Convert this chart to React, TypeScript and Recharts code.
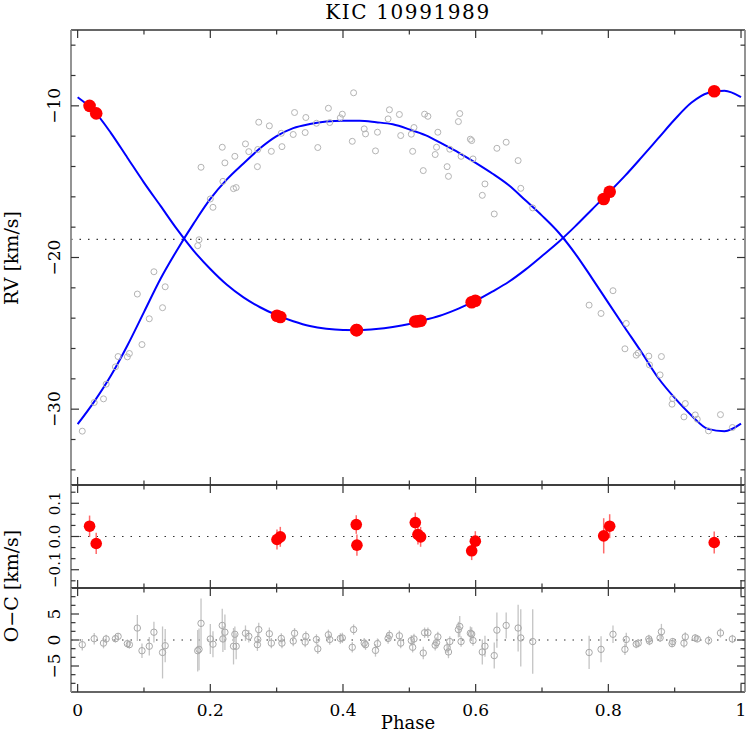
import {
  ComposedChart,
  Line,
  Scatter,
  XAxis,
  YAxis,
  ReferenceLine,
  ErrorBar,
} from "recharts";

// model curves (every 0.025 in phase)
const modelPhase = [
  0, 0.025, 0.05, 0.075, 0.1, 0.125, 0.15, 0.175, 0.2, 0.225, 0.25, 0.275, 0.3, 0.325,
  0.35, 0.375, 0.4, 0.425, 0.45, 0.475, 0.5, 0.525, 0.55, 0.575, 0.6, 0.625, 0.65, 0.675,
  0.7, 0.725, 0.75, 0.775, 0.8, 0.825, 0.85, 0.875, 0.9, 0.925, 0.95, 0.975, 1,
];
const modelPrimary = [
  -9.43, -10.35, -11.78, -13.42, -15.06, -16.6, -18.15, -19.56, -20.76, -21.8, -22.63,
  -23.28, -23.8, -24.2, -24.52, -24.7, -24.78, -24.79, -24.72, -24.58, -24.38, -24.1,
  -23.78, -23.35, -22.85, -22.25, -21.6, -20.8, -19.9, -18.98, -17.95, -16.85, -15.75,
  -14.62, -13.4, -12.15, -10.9, -9.8, -9.15, -9.0, -9.42,
];
const modelSecondary = [
  -30.99, -29.5, -27.8, -25.8, -23.6, -21.4, -19.5, -17.75, -16.14, -14.85, -13.8,
  -12.8, -12.0, -11.47, -11.2, -11.03, -10.98, -10.98, -11.08, -11.22, -11.55, -11.95,
  -12.51, -13.1, -13.76, -14.46, -15.24, -16.23, -17.24, -18.35, -19.74, -21.34, -22.99,
  -24.63, -26.25, -27.93, -29.26, -30.4, -31.3, -31.45, -30.95,
];
const gamma = -18.8;

// primary star (red)
const redPhase = [0.018, 0.028, 0.3005, 0.3055, 0.42, 0.421, 0.509, 0.513, 0.517, 0.594, 0.5995, 0.793, 0.802, 0.9596];
const redRv = [-10.0, -10.5, -23.84, -23.92, -24.79, -24.79, -24.22, -24.2, -24.17, -22.95, -22.85, -16.14, -15.66, -9.04];
const redOc = [0.031, -0.021, -0.009, -0.001, 0.036, -0.026, 0.042, 0.006, -0.001, -0.043, -0.014, 0.002, 0.031, -0.018];
const redErr = [0.032, 0.032, 0.03, 0.03, 0.028, 0.032, 0.03, 0.03, 0.03, 0.028, 0.03, 0.053, 0.036, 0.033];

// secondary star (grey)
const greyPhase = [
  0.007, 0.025, 0.039, 0.043, 0.057, 0.061, 0.075, 0.078, 0.09, 0.097, 0.108, 0.115, 0.128,
  0.132, 0.181, 0.183, 0.186, 0.2, 0.204, 0.218, 0.219, 0.222, 0.235, 0.237, 0.239, 0.253,
  0.258, 0.271, 0.2715, 0.273, 0.289, 0.292, 0.307, 0.308, 0.325, 0.327, 0.343, 0.344, 0.36,
  0.362, 0.378, 0.38, 0.396, 0.399, 0.414, 0.416, 0.432, 0.434, 0.449, 0.452, 0.468, 0.47,
  0.485, 0.487, 0.503, 0.505, 0.507, 0.521, 0.523, 0.528, 0.539, 0.541, 0.543, 0.557, 0.559,
  0.561, 0.574, 0.576, 0.578, 0.592, 0.594, 0.596, 0.61, 0.614, 0.628, 0.632, 0.646, 0.664,
  0.668, 0.686, 0.771, 0.789, 0.807, 0.825, 0.827, 0.842, 0.845, 0.861, 0.862, 0.878, 0.88,
  0.896, 0.897, 0.914, 0.916, 0.931, 0.934, 0.951, 0.969, 0.987,
];
const greyRv = [
  -31.45, -29.56, -29.32, -28.35, -27.21, -26.53, -26.55, -26.33, -22.41, -25.74, -24.04,
  -20.94, -23.31, -21.93, -19.22, -18.83, -14.05, -16.14, -16.69, -12.73, -14.98, -13.76,
  -15.46, -13.33, -15.39, -12.51, -13.02, -14.01, -12.88, -11.08, -11.32, -13.0, -11.81,
  -12.69, -11.89, -10.44, -11.76, -10.77, -11.15, -12.75, -10.16, -11.1, -10.79, -10.55,
  -12.34, -9.14, -11.52, -11.85, -12.97, -11.74, -10.86, -10.26, -10.57, -11.96, -11.87,
  -13.0, -11.43, -14.27, -10.55, -10.69, -13.21, -12.73, -11.74, -14.01, -14.65, -12.86,
  -11.04, -10.51, -13.33, -12.2, -12.29, -13.5, -15.9, -15.15, -17.13, -12.8, -12.4, -13.61,
  -15.44, -16.73, -23.14, -23.69, -22.19, -26.02, -24.35, -26.44, -26.3, -26.5, -27.08,
  -27.74, -26.53, -29.67, -29.3, -30.51, -29.63, -30.38, -30.66, -31.43, -30.36, -31.21,
];
const greyOc = [
  -0.9, 0.25, -0.6, 0.2, 0.25, 0.7, -0.7, -0.9, 2.3, -2.06, -1.2, 1.5, -2.4, -1.1, -2.06,
  -1.8, 3.2, 0.2, -0.8, 2.8, 0.2, 1.5, -1.2, 1.1, -1.2, 1.3, 0.7, -0.9, 0.1, 2.0, 1.2, -0.6,
  0.3, -0.6, -0.2, 1.3, -0.4, 0.7, 0.1, -1.7, 1.0, 0.1, 0.3, 0.4, -1.4, 2.0, -0.6, -0.9,
  -2.0, -0.7, 0.3, 0.9, 0.8, -0.6, -0.1, -1.4, 0.2, -2.5, 1.4, 1.4, -1.0, -0.5, 0.6, -1.5,
  -2.3, -0.3, 2.0, 2.6, -0.3, 1.3, 1.15, -0.1, -2.3, -1.2, -3.0, 1.9, 2.8, 2.3, 0.4, -0.3,
  -2.4, -1.8, 1.1, -1.8, 0.1, -0.8, -0.6, 0.2, -0.2, 0.4, 1.6, -0.7, -0.3, -0.6, 0.6, 0.4,
  0.2, -0.1, 1.35, 0.2,
];
const greyErr = [
  1.1, 1.1, 1.0, 0.8, 0.7, 0.6, 0.8, 0.7, 2.5, 1.4, 1.8, 2.0, 5.0, 3.2, 4.0, 4.0, 4.8, 2.9,
  2.5, 3.2, 2.5, 3.4, 3.5, 1.5, 2.5, 1.5, 1.2, 1.2, 1.2, 1.3, 1.2, 1.0, 1.0, 1.0, 1.0, 1.0,
  1.0, 1.0, 1.0, 1.0, 1.0, 1.0, 1.0, 1.0, 1.0, 1.0, 1.0, 1.0, 1.2, 1.0, 1.0, 1.0, 1.0, 1.0,
  1.0, 1.0, 1.0, 1.2, 1.0, 1.0, 1.0, 1.0, 1.0, 1.0, 1.2, 1.0, 1.5, 2.0, 1.0, 1.3, 1.3, 1.0,
  2.4, 2.0, 2.5, 3.4, 2.5, 4.5, 5.5, 6.2, 3.2, 2.5, 1.7, 1.1, 1.3, 0.8, 0.8, 0.8, 0.8, 0.8,
  1.5, 0.7, 0.7, 0.9, 0.9, 0.7, 0.6, 0.9, 0.9, 0.8,
];

// ticks
const xTicks = [0, 0.1, 0.2, 0.3, 0.4, 0.5, 0.6, 0.7, 0.8, 0.9, 1];
const xMajor = [0, 0.2, 0.4, 0.6, 0.8, 1];
const xLabels = ["0", "0.2", "0.4", "0.6", "0.8", "1"];
const rvTicks = [-34, -32, -30, -28, -26, -24, -22, -20, -18, -16, -14, -12, -10, -8, -6];
const rvMajor = [-30, -20, -10];
const rvLabels = ["\u221230", "\u221220", "\u221210"];
const dvTicks = [-0.1333, -0.1, -0.0667, -0.0333, 0, 0.0333, 0.0667, 0.1, 0.1333];
const dvMajor = [-0.1, 0, 0.1];
const dvLabels = ["\u22120.1", "0.0", "0.1"];
const ocTicks = [-8.333, -6.667, -5, -3.333, -1.667, 0, 1.667, 3.333, 5, 6.667, 8.333];
const ocMajor = [-5, 0, 5];
const ocLabels = ["\u22125", "0", "5"];

const modelData = modelPhase.map((phase, i) => ({
  phase,
  primary: modelPrimary[i],
  secondary: modelSecondary[i],
}));
const redData = redPhase.map((phase, i) => ({ phase, rv: redRv[i], oc: redOc[i], err: redErr[i] }));
const greyData = greyPhase.map((phase, i) => ({ phase, rv: greyRv[i], oc: greyOc[i], err: greyErr[i] }));

const W = 747;
const H = 732;
const LEFT = 71;
const RIGHT = 745;
const X_DOMAIN = [-0.01, 1.006];
const FONT = "'DejaVu Serif', 'Liberation Serif', serif";
const layer = { position: "absolute" as const, left: 0, top: 0 };

// axes take 1px each, so margins are 1px short of the frame
const frameMargin = (top: number, bottom: number) => ({
  top: top - 1,
  bottom: H - bottom - 1,
  left: LEFT - 1,
  right: W - RIGHT - 1,
});

type Side = "bottom" | "top" | "left" | "right";

function makeTick(side: Side, major: number[], labels: string[] | null, fontSize = 17) {
  return (props: any) => {
    const { x, y, payload } = props;
    const v = payload.value as number;
    const idx = major.findIndex((m) => Math.abs(m - v) < 1e-6);
    const len = idx >= 0 ? 8 : 4.5;
    const dx = side === "left" ? len : side === "right" ? -len : 0;
    const dy = side === "bottom" ? -len : side === "top" ? len : 0;
    let text = null;
    if (labels && idx >= 0) {
      if (side === "bottom") {
        text = (
          <text x={x} y={y + 24} textAnchor="middle" fontSize={fontSize} fontFamily={FONT} fill="#000">
            {labels[idx]}
          </text>
        );
      } else if (side === "left") {
        text = (
          <text
            x={60}
            y={y}
            transform={`rotate(-90 60 ${y})`}
            textAnchor="middle"
            fontSize={fontSize}
            fontFamily={FONT}
            fill="#000"
          >
            {labels[idx]}
          </text>
        );
      }
    }
    return (
      <g>
        <line x1={x} y1={y} x2={x + dx} y2={y + dy} stroke="#333" strokeWidth={1.2} />
        {text}
      </g>
    );
  };
}

const hLine = { stroke: "#333", strokeWidth: 1.3 };
const vLine = { stroke: "#888", strokeWidth: 1.8 };

function frameAxes(
  yDomain: number[],
  yTicks: number[],
  yMajor: number[],
  yLabels: string[],
  xLabelsOn: boolean,
  yFont = 17
) {
  return [
    <XAxis
      key="xb"
      dataKey="phase"
      type="number"
      domain={X_DOMAIN}
      ticks={xTicks}
      interval={0}
      height={1}
      tickSize={0}
      tickMargin={0}
      allowDataOverflow
      axisLine={hLine}
      tickLine={false}
      tick={makeTick("bottom", xMajor, xLabelsOn ? xLabels : null)}
    />,
    <XAxis
      key="xt"
      xAxisId="top"
      orientation="top"
      dataKey="phase"
      type="number"
      domain={X_DOMAIN}
      ticks={xTicks}
      interval={0}
      height={1}
      tickSize={0}
      tickMargin={0}
      allowDataOverflow
      axisLine={hLine}
      tickLine={false}
      tick={makeTick("top", xMajor, null)}
    />,
    <YAxis
      key="yl"
      type="number"
      domain={yDomain}
      ticks={yTicks}
      interval={0}
      width={1}
      tickSize={0}
      tickMargin={0}
      allowDataOverflow
      axisLine={vLine}
      tickLine={false}
      tick={makeTick("left", yMajor, yLabels, yFont)}
    />,
    <YAxis
      key="yr"
      yAxisId="r"
      orientation="right"
      type="number"
      domain={yDomain}
      ticks={yTicks}
      interval={0}
      width={1}
      tickSize={0}
      tickMargin={0}
      allowDataOverflow
      axisLine={vLine}
      tickLine={false}
      tick={makeTick("right", yMajor, null)}
    />,
  ];
}

const redDot = (r: number) => (p: any) => <circle cx={p.cx} cy={p.cy} r={r} fill="#ff0000" />;
const greyRing = (r: number, c: string) => (p: any) =>
  <circle cx={p.cx} cy={p.cy} r={r} fill="none" stroke={c} strokeWidth={1} />;

export default function App() {
  return (
    <div style={{ position: "absolute", left: 0, top: 0, width: W, height: H, background: "#fff" }}>
      {/* RV panel */}
      <div style={layer}>
        <ComposedChart width={W} height={H} data={modelData} margin={frameMargin(30, 485)}>
          {frameAxes([-35, -5], rvTicks, rvMajor, rvLabels, false)}
          <ReferenceLine y={gamma} stroke="#333" strokeWidth={1.2} strokeDasharray="1.5 7" />
          <Scatter data={greyData} dataKey="rv" shape={greyRing(3, "#b4b4b4")} isAnimationActive={false} />
          <Line type="monotone" dataKey="primary" stroke="#0000ff" strokeWidth={2} dot={false} isAnimationActive={false} />
          <Line type="monotone" dataKey="secondary" stroke="#0000ff" strokeWidth={2} dot={false} isAnimationActive={false} />
          <Scatter data={redData} dataKey="rv" shape={redDot(6.3)} isAnimationActive={false} />
        </ComposedChart>
      </div>

      {/* O-C primary */}
      <div style={layer}>
        <ComposedChart width={W} height={H} margin={frameMargin(485, 588)}>
          {frameAxes([-0.155, 0.155], dvTicks, dvMajor, dvLabels, false, 15)}
          <ReferenceLine y={0} stroke="#333" strokeWidth={1.2} strokeDasharray="1.5 7" />
          <Scatter data={redData} dataKey="oc" shape={redDot(5.8)} isAnimationActive={false}>
            <ErrorBar dataKey="err" direction="y" width={0} stroke="#ff6a6a" strokeWidth={1.5} isAnimationActive={false} />
          </Scatter>
        </ComposedChart>
      </div>

      {/* O-C secondary */}
      <div style={layer}>
        <ComposedChart width={W} height={H} margin={frameMargin(588, 692)}>
          {frameAxes([-10, 10], ocTicks, ocMajor, ocLabels, true)}
          <ReferenceLine y={0} stroke="#333" strokeWidth={1.2} strokeDasharray="1.5 7" />
          <Scatter data={greyData} dataKey="oc" shape={greyRing(3.2, "#a8a8a8")} isAnimationActive={false}>
            <ErrorBar dataKey="err" direction="y" width={0} stroke="#c4c4c4" strokeWidth={1.3} isAnimationActive={false} />
          </Scatter>
        </ComposedChart>
      </div>

      {/* titles and axis names */}
      <svg style={layer} width={W} height={H}>
        <text x={408} y={19} textAnchor="middle" fontSize={20} letterSpacing={1.6} fontFamily={FONT}>
          KIC 10991989
        </text>
        <text x={408} y={729} textAnchor="middle" fontSize={18} fontFamily={FONT}>
          Phase
        </text>
        <text x={18} y={258} transform="rotate(-90 18 258)" textAnchor="middle" fontSize={19} fontFamily={FONT}>
          RV [km/s]
        </text>
        <text x={18} y={586} transform="rotate(-90 18 586)" textAnchor="middle" fontSize={19} fontFamily={FONT}>
          O{"\u2212"}C [km/s]
        </text>
      </svg>
    </div>
  );
}
